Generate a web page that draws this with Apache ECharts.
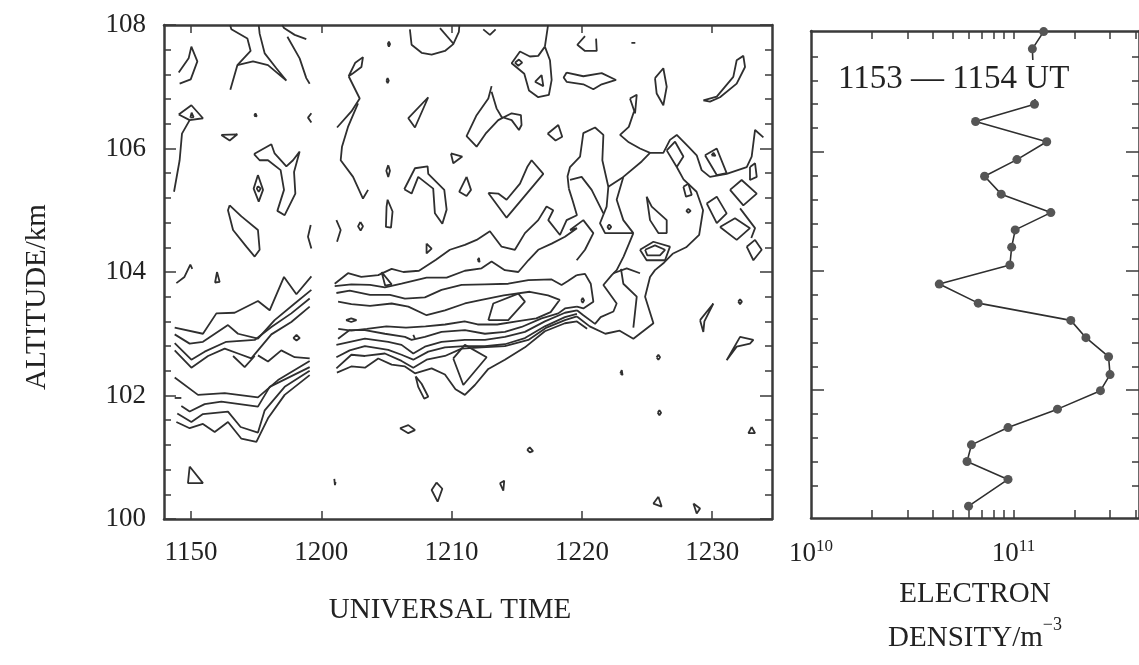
<!DOCTYPE html>
<html>
<head>
<meta charset="utf-8">
<script src="https://cdn.jsdelivr.net/npm/echarts@6/dist/echarts.min.js"></script>
<style>
  html, body { margin: 0; padding: 0; background: #fff; }
  #chart { width: 1139px; height: 665px; }
</style>
</head>
<body>
<div id="chart"></div>
<script>
// time is kept as minutes after 1100 UT, labels are HHMM
const timeTicks = [50, 60, 70, 80, 90];
const timeLabels = ['1150', '1200', '1210', '1220', '1230'];

// electron density profile 1153-1154 UT (altitude km, density m^-3)
const profileAlt = [108.02, 107.73, 107.43, 107.12, 106.80, 106.51, 106.17, 105.87, 105.59, 105.29,
  104.98, 104.69, 104.40, 104.10, 103.78, 103.46, 103.17, 102.88, 102.56, 102.26,
  101.99, 101.68, 101.37, 101.08, 100.80, 100.50, 100.05];
const profileDensity = [1.41e11, 1.24e11, 1.25e11, 1.3e11, 1.27e11, 6.5e10, 1.46e11, 1.04e11, 7.2e10, 8.7e10,
  1.53e11, 1.02e11, 9.8e10, 9.6e10, 4.3e10, 6.7e10, 1.92e11, 2.28e11, 2.95e11, 3.0e11,
  2.69e11, 1.65e11, 9.4e10, 6.2e10, 5.9e10, 9.4e10, 6.0e10];
const densityTicks = [2e10, 3e10, 4e10, 5e10, 6e10, 7e10, 8e10, 9e10, 1e11, 2e11, 3e11, 4e11];
const densityLabels = [1e10, 1e11];
const altMajorRight = [102, 104, 106];
const altMinorRight = [100.4, 100.8, 101.2, 101.6, 102.4, 102.8, 103.2, 103.6, 104.4, 104.8,
  105.2, 105.6, 106.4, 106.8, 107.2, 107.6];

// contour lines of the time-altitude plot, [minutes after 1100, km]
const contoursEarly = [
  [[49.06,107.23],[49.82,107.46],[50.03,107.65],[50.49,107.41],[49.98,107.12],[49.13,107.05]],
  [[53.0,108.0],[53.10,107.93],[54.33,107.78],[54.58,107.58],[53.56,107.35],[53.02,106.95]],
  [[53.56,107.35],[54.76,107.41],[55.91,107.35],[57.32,107.10],[56.55,107.30],[55.66,107.54],[55.27,107.86],[55.2,108.0]],
  [[57.0,108.0],[57.14,107.95],[57.96,107.84],[58.85,107.77]],
  [[57.40,107.81],[58.34,107.46],[58.85,107.14],[59.11,107.05]],
  [[62.10,107.17],[62.61,107.39],[63.20,107.48],[63.08,107.32],[62.44,107.22],[62.10,107.17]],
  [[62.10,107.17],[62.95,106.81],[62.31,106.60],[61.21,106.34]],
  [[62.82,106.73],[62.05,106.35],[61.59,106.03],[61.49,105.81],[62.44,105.54],[63.20,105.19],[63.59,105.33]],
  [[49.06,106.55],[50.03,106.70],[50.92,106.49],[49.90,106.46],[49.06,106.55]],
  [[49.90,106.46],[49.31,106.24],[49.13,105.81],[48.70,105.30]],
  [[49.95,106.50],[50.05,106.58],[50.2,106.51],[49.95,106.50]],
  [[54.85,106.53],[54.95,106.57],[55.05,106.52],[54.95,106.49],[54.85,106.53]],
  [[52.33,106.22],[53.56,106.23],[52.97,106.13],[52.33,106.22]],
  [[59.24,106.57],[58.98,106.50],[59.24,106.42]],
  [[54.84,105.91],[56.17,106.07],[56.42,105.92],[57.32,105.71],[57.83,105.81],[58.34,105.95],[57.91,105.62],[58.01,105.27],[57.19,104.92],[56.63,104.99],[57.14,105.33],[56.88,105.65],[55.91,105.81],[55.27,105.81],[54.84,105.91]],
  [[55.14,105.57],[55.53,105.33],[55.20,105.14],[54.81,105.35],[55.14,105.57]],
  [[55.14,105.39],[55.35,105.35],[55.20,105.30],[55.05,105.35],[55.14,105.39]],
  [[52.97,105.08],[53.87,104.90],[55.14,104.68],[55.27,104.36],[54.89,104.25],[54.25,104.41],[53.23,104.68],[52.84,105.00],[52.97,105.08]],
  [[59.19,104.76],[58.98,104.57],[59.24,104.38]],
  [[61.16,104.84],[61.49,104.68],[61.21,104.49]],
  [[63.00,104.81],[63.20,104.74],[63.02,104.67],[62.82,104.74],[63.00,104.81]],
  [[48.88,103.82],[49.5,103.92],[49.95,104.12],[50.1,104.05]],
  [[52.0,104.0],[52.2,103.84],[51.85,103.83],[52.0,104.0]],
  [[49.90,100.85],[50.92,100.58],[49.77,100.58],[49.90,100.85]],
  [[61.0,100.65],[61.05,100.55],[61.1,100.6]],
  // layer before 1200
  [[48.75,103.10],[50.92,103.00],[51.95,103.33],[53.35,103.34],[55.14,103.53],[56.04,103.38],[57.14,103.92],[58.09,103.64],[59.24,103.93]],
  [[48.75,102.99],[49.90,102.84],[50.92,102.87],[52.84,103.14],[53.61,103.00],[55.14,102.92],[56.42,103.22],[57.96,103.49],[59.24,103.71]],
  [[48.75,102.85],[50.03,102.58],[51.05,102.71],[52.71,102.87],[54.89,102.90],[56.17,103.11],[57.70,103.33],[59.11,103.57]],
  [[48.75,102.73],[50.03,102.45],[51.31,102.64],[52.59,102.76],[53.61,102.68],[54.63,102.60],[56.17,102.99],[57.70,103.19],[59.11,103.44]],
  [[53.23,102.64],[54.12,102.46],[54.89,102.64]],
  [[55.14,102.65],[55.91,102.55],[56.93,102.73],[57.96,102.62],[59.11,102.60]],
  [[57.85,102.93],[58.1,102.98],[58.35,102.93],[58.1,102.89],[57.85,102.93]],
  [[48.75,102.29],[50.54,102.01],[52.59,102.04],[55.14,101.97],[56.68,102.25],[59.11,102.56]],
  [[48.75,101.96],[49.26,101.96]],
  [[49.26,101.83],[49.90,101.74],[51.05,101.86],[52.33,101.90],[55.14,101.82],[56.04,102.14],[59.11,102.46]],
  [[48.95,101.71],[50.03,101.57],[50.92,101.70],[52.84,101.74],[53.81,101.49],[55.14,101.40],[55.66,101.76],[57.19,102.14],[59.11,102.40]],
  [[48.88,101.57],[49.90,101.47],[50.92,101.54],[51.82,101.41],[52.84,101.57],[53.87,101.30],[55.02,101.25],[55.91,101.63],[57.19,102.01],[59.11,102.33]]
];

const contoursMid = [
  [[66.80,107.93],[66.93,107.68],[67.70,107.55],[68.47,107.52],[69.49,107.58],[70.13,107.69],[70.56,107.89],[70.6,108.0]],
  [[69.11,107.95],[70.13,107.70]],
  [[72.43,107.93],[72.94,107.84],[73.38,107.93]],
  [[65.10,107.69],[65.19,107.73],[65.28,107.69],[65.19,107.65],[65.10,107.69]],
  [[65.0,107.10],[65.09,107.14],[65.18,107.10],[65.09,107.06],[65.0,107.10]],
  [[77.4,108.0],[77.37,107.95],[77.16,107.65]],
  [[77.16,107.65],[76.65,107.50],[76.01,107.49],[75.25,107.57],[74.61,107.38],[75.58,107.21],[75.94,106.94],[76.65,106.83],[77.47,106.87],[77.68,107.11],[77.55,107.43],[77.16,107.65]],
  [[74.86,107.39],[75.17,107.44],[75.42,107.39],[75.12,107.34],[74.86,107.39]],
  [[76.40,107.08],[76.91,107.19],[77.04,107.01],[76.40,107.08]],
  [[78.83,107.23],[80.11,107.17],[81.52,107.22],[82.62,107.11],[81.52,107.04],[80.88,106.96],[80.11,107.04],[78.83,107.08],[78.6,107.15],[78.83,107.23]],
  [[68.21,106.83],[66.68,106.49],[67.19,106.34],[68.21,106.83]],
  [[73.07,107.01],[72.82,106.81],[71.92,106.54],[71.15,106.20],[71.92,106.03],[72.61,106.24],[73.58,106.46],[74.61,106.57],[75.32,106.54],[75.37,106.38],[75.17,106.30],[74.61,106.46],[73.84,106.51],[73.45,106.65],[73.07,106.92]],
  [[77.37,106.24],[78.19,106.38],[78.49,106.19],[77.98,106.13],[77.37,106.24]],
  [[69.95,105.92],[70.82,105.87],[70.13,105.76],[69.95,105.92]],
  [[65.14,105.73],[65.27,105.64],[65.14,105.54],[64.99,105.64],[65.14,105.73]],
  [[66.37,105.34],[67.19,105.68],[68.16,105.71],[68.21,105.59],[69.44,105.33],[69.62,105.01],[69.29,104.78],[68.72,104.95],[68.59,105.35],[67.44,105.54],[66.93,105.27],[66.37,105.34]],
  [[71.15,105.54],[71.49,105.33],[71.15,105.23],[70.59,105.30],[71.15,105.54]],
  [[65.09,105.17],[65.47,104.98],[65.35,104.72],[64.96,104.73],[65.01,105.06],[65.09,105.17]],
  [[72.82,105.28],[74.22,104.88],[77.04,105.59],[76.14,105.81],[75.83,105.71],[75.25,105.43],[74.22,105.17],[73.58,105.27],[72.82,105.28]],
  [[68.08,104.46],[68.47,104.38],[68.08,104.30],[68.08,104.46]],
  [[72.0,104.19],[72.1,104.23],[72.15,104.16],[72.0,104.19]],
  [[64.63,104.0],[65.40,103.8],[64.9,103.78],[64.63,104.0]],
  // layer after 1200
  [[61.03,103.81],[62.05,103.98],[63.07,103.92],[64.37,103.95],[65.4,104.05],[66.3,104.0],[67.5,104.02],[68.8,104.2],[69.87,104.36],[71.02,104.44],[71.92,104.52],[72.94,104.66],[73.84,104.41],[74.86,104.36],[75.63,104.63],[76.65,104.84],[77.29,105.06],[77.80,105.00],[77.42,104.84],[78.32,104.60],[78.83,104.84],[79.62,104.92],[79.3,105.15],[79.0,105.35]],
  [[61.03,103.77],[62.31,103.80],[63.74,103.79],[64.88,103.75],[66.16,103.81],[68.08,103.91],[69.62,103.91],[71.02,104.02],[72.30,104.06],[73.07,104.17],[74.09,104.03],[75.12,104.0],[75.89,104.19],[76.65,104.36],[77.68,104.46],[78.70,104.57],[79.62,104.71],[79.09,104.68]],
  [[61.16,103.66],[62.18,103.70],[63.74,103.63],[65.27,103.63],[66.42,103.57],[67.95,103.59],[69.23,103.71],[70.77,103.79],[72.56,103.80],[74.35,103.81],[75.89,103.87],[77.68,103.88],[78.44,103.79],[78.9,103.85],[79.62,103.95]],
  [[61.29,103.52],[62.31,103.48],[63.74,103.45],[65.40,103.49],[66.68,103.44],[68.08,103.30],[69.49,103.38],[71.02,103.49],[72.3,103.55],[74.0,103.62],[76.0,103.68],[77.4,103.62],[78.3,103.55],[77.6,103.35],[76.5,103.25],[75.0,103.2],[73.5,103.15],[72.0,103.15],[71.0,103.2],[69.5,103.15],[68.0,103.12],[66.5,103.1],[65.0,103.12],[63.5,103.08],[62.3,103.05],[61.3,103.08]],
  [[72.82,103.22],[73.20,103.49],[75.12,103.65],[75.63,103.52],[74.35,103.22],[72.82,103.22]],
  [[61.9,103.22],[62.3,103.25],[62.7,103.22],[62.3,103.19],[61.9,103.22]],
  [[61.29,102.92],[62.18,103.06],[63.35,103.06],[64.88,103.00],[66.42,102.95],[66.93,102.90],[67.95,102.95],[69.23,103.03],[71.02,103.06],[72.56,103.0],[74.09,103.03],[75.37,103.11],[76.91,103.25],[78.19,103.33],[78.70,103.41],[79.62,103.44]],
  [[61.16,102.82],[63.35,102.92],[65.14,102.87],[66.16,102.82],[67.06,102.68],[67.95,102.79],[69.23,102.87],[71.02,102.90],[72.56,102.90],[74.09,102.95],[75.63,103.03],[77.16,103.20],[78.70,103.34],[79.62,103.38]],
  [[61.16,102.62],[62.18,102.73],[63.35,102.80],[65.14,102.74],[66.16,102.66],[67.06,102.58],[68.21,102.71],[69.49,102.78],[71.02,102.80],[72.56,102.80],[74.09,102.83],[75.63,102.93],[77.16,103.12],[78.70,103.27],[79.62,103.32]],
  [[61.16,102.44],[62.31,102.66],[63.35,102.64],[64.88,102.68],[66.16,102.56],[67.06,102.45],[68.08,102.58],[69.49,102.64],[70.77,102.76],[72.30,102.78],[74.09,102.80],[75.89,102.90],[77.29,103.10],[78.70,103.22],[79.62,103.28]],
  [[61.2,102.37],[62.3,102.47],[63.35,102.45],[64.37,102.60],[65.40,102.50],[66.42,102.47],[67.19,102.36],[68.47,102.44],[69.49,102.34],[70.3,102.1],[71.02,102.01],[71.79,102.17],[72.82,102.43],[74.09,102.58],[75.63,102.78],[77.16,103.04],[78.70,103.17],[79.62,103.20],[80.4,103.08]],
  [[70.13,102.60],[71.02,102.82],[72.69,102.62],[70.90,102.17],[70.13,102.60]],
  [[67.24,102.31],[67.70,102.19],[68.21,101.98],[67.9,101.95],[67.44,102.14],[67.24,102.31]],
  [[67.06,102.98],[67.19,103.0],[67.19,102.92],[67.06,102.98]],
  [[66.04,101.47],[66.68,101.52],[67.19,101.44],[66.68,101.39],[66.04,101.47]],
  [[75.8,101.12],[76.0,101.16],[76.25,101.1],[76.0,101.08],[75.8,101.12]],
  [[68.85,100.59],[69.29,100.49],[68.93,100.28],[68.47,100.47],[68.85,100.59]],
  [[73.71,100.58],[74.04,100.62],[73.97,100.46],[73.71,100.58]]
];

const contoursLate = [
  [[80.24,107.82],[79.65,107.68],[80.24,107.58],[81.14,107.58],[81.09,107.78]],
  [[83.8,107.71],[83.95,107.74],[84.1,107.71],[83.95,107.68],[83.8,107.71]],
  [[85.61,107.14],[86.25,107.30],[86.51,107.00],[86.25,106.70],[85.74,106.89],[85.61,107.14]],
  [[89.32,106.78],[90.35,106.84],[91.62,107.16],[91.88,107.43],[92.39,107.50],[92.52,107.32],[91.88,107.05],[90.60,106.83],[89.83,106.76],[89.32,106.78]],
  [[83.69,106.81],[84.21,106.87],[84.08,106.57],[83.69,106.81]],
  [[79.0,105.35],[78.9,105.55],[79.09,105.70],[79.86,105.87],[80.11,106.25],[81.01,106.34],[81.65,106.22],[81.57,105.81],[82.03,105.38],[83.18,105.54],[84.59,105.79],[85.23,105.93],[86.25,105.93],[86.76,106.14],[87.28,106.22],[88.17,106.03],[88.81,105.89],[89.19,105.65],[89.83,105.54],[91.11,105.59],[92.65,105.70],[93.03,105.87],[93.29,106.30],[93.93,106.18]],
  [[84.0,106.6],[83.6,106.35],[82.93,106.22],[83.6,106.1],[84.46,106.0],[85.23,105.93]],
  [[86.51,105.97],[87.15,106.11],[87.79,105.87],[87.28,105.70],[86.51,105.97]],
  [[84.97,105.22],[85.36,105.06],[86.51,104.84],[86.51,104.63],[85.87,104.63],[85.23,104.84],[84.97,105.22]],
  [[88.0,104.99],[88.17,105.02],[88.35,104.99],[88.17,104.96],[88.0,104.99]],
  [[87.79,105.38],[88.17,105.43],[88.43,105.25],[87.99,105.22],[87.79,105.38]],
  [[89.45,105.89],[90.35,106.0],[91.11,105.60],[90.35,105.57],[89.45,105.89]],
  [[89.95,105.89],[90.1,105.93],[90.25,105.88],[90.1,105.85],[89.95,105.89]],
  [[92.90,105.70],[93.29,105.76],[93.42,105.54],[92.90,105.49],[92.90,105.70]],
  [[91.37,105.33],[92.26,105.49],[93.42,105.27],[92.39,105.08],[91.37,105.33]],
  [[89.58,105.11],[90.35,105.22],[91.11,104.95],[90.35,104.79],[89.58,105.11]],
  [[90.60,104.73],[91.75,104.87],[92.90,104.71],[91.88,104.52],[90.60,104.73]],
  [[92.65,104.41],[93.29,104.52],[93.80,104.36],[93.16,104.19],[92.65,104.41]],
  [[92.14,105.03],[93.29,104.71],[93.0,104.55]],
  [[84.46,104.36],[85.49,104.49],[86.76,104.41],[86.38,104.19],[84.97,104.19],[84.46,104.36]],
  [[84.85,104.36],[85.61,104.43],[86.38,104.36],[85.99,104.27],[85.02,104.27],[84.85,104.36]],
  [[82.42,103.98],[83.44,104.06],[84.46,103.98]],
  [[79.09,104.68],[80.11,104.84],[80.88,104.63],[80.24,104.36],[79.60,104.19]],
  [[82.03,105.38],[81.90,105.06],[81.39,104.79],[81.78,104.63],[83.95,104.63],[83.18,104.84],[82.67,105.17],[83.18,105.54]],
  [[81.95,104.73],[82.1,104.77],[82.25,104.73],[82.1,104.69],[81.95,104.73]],
  [[87.28,105.70],[87.8,105.5],[88.8,105.3],[89.3,105.0],[89.0,104.6],[88.0,104.4],[87.0,104.3]],
  [[79.09,105.49],[79.98,105.54],[80.75,105.33],[81.65,104.95]],
  [[79.62,103.95],[80.24,103.97],[80.68,103.81],[80.88,103.52],[80.11,103.41],[79.62,103.44]],
  [[79.95,103.54],[80.06,103.58],[80.17,103.54],[80.06,103.5],[79.95,103.54]],
  [[79.62,103.38],[80.11,103.30],[81.01,103.16],[81.44,103.27],[82.42,103.36],[82.67,103.49],[81.65,103.79],[82.29,103.95],[82.67,104.03],[83.2,104.25],[83.6,104.45],[83.95,104.63]],
  [[79.62,103.28],[80.6,103.12],[81.8,103.0],[82.9,103.05],[83.95,102.92],[85.49,103.17],[84.85,103.60],[85.23,103.92],[85.61,104.03],[86.3,104.15],[87.0,104.3]],
  [[83.0,104.05],[83.18,103.81],[84.21,103.60],[83.95,103.1]],
  [[89.07,103.22],[90.09,103.49],[89.4,103.2],[89.32,103.03],[89.07,103.22]],
  [[91.11,102.57],[92.14,102.95],[93.16,102.90],[92.90,102.84],[91.88,102.79],[91.11,102.57]],
  [[92.0,103.52],[92.14,103.56],[92.28,103.52],[92.14,103.48],[92.0,103.52]],
  [[85.73,102.62],[85.87,102.66],[86.0,102.62],[85.87,102.58],[85.73,102.62]],
  [[82.95,102.36],[83.06,102.41],[83.12,102.33],[82.95,102.36]],
  [[85.82,101.72],[85.95,101.76],[86.08,101.72],[85.95,101.68],[85.82,101.72]],
  [[93.03,101.49],[93.29,101.39],[92.78,101.39],[93.03,101.49]],
  [[85.87,100.36],[86.12,100.20],[85.49,100.25],[85.87,100.36]],
  [[88.56,100.25],[89.07,100.17],[88.81,100.09],[88.56,100.25]]
];

const serif = "'Liberation Serif', 'DejaVu Serif', serif";
const ink = '#2f2f2f';
const frame = { lineStyle: { color: '#3a3a3a', width: 2.5 } };

function labelTime(v) {
  const i = timeTicks.indexOf(Math.round(v));
  return i >= 0 ? timeLabels[i] : '';
}
function labelPow(v) {
  return '10{sup|' + Math.round(Math.log10(v)) + '}';
}

const chart = echarts.init(document.getElementById('chart'));

const contourSeries = contoursEarly.concat(contoursMid, contoursLate).map(function (pts) {
  return {
    type: 'line',
    xAxisIndex: 0,
    yAxisIndex: 0,
    data: pts,
    symbol: 'none',
    lineStyle: { color: ink, width: 1.8 },
    silent: true,
    z: 2
  };
});

const profileSeries = {
  type: 'line',
  xAxisIndex: 2,
  yAxisIndex: 2,
  data: profileDensity.map(function (d, i) { return [d, profileAlt[i]]; }),
  symbol: 'circle',
  symbolSize: 9,
  itemStyle: { color: '#555' },
  lineStyle: { color: ink, width: 1.6 },
  silent: true,
  z: 2
};

const option = {
  animation: false,
  backgroundColor: '#fff',
  title: {
    text: '1153 — 1154 UT',
    left: 834,
    top: 60,
    padding: [3, 4],
    backgroundColor: '#fff',
    textStyle: { fontFamily: serif, fontSize: 33, fontWeight: 'normal', color: '#222' }
  },
  grid: [
    { left: 164, top: 25, width: 608, height: 494 },
    { left: 811, top: 31, width: 332, height: 496 }
  ],
  xAxis: [
    {
      gridIndex: 0, type: 'value', position: 'bottom', min: 47.93, max: 94.59,
      axisLine: Object.assign({ onZero: false }, frame),
      axisTick: { inside: true, length: 8, customValues: timeTicks, lineStyle: { color: '#3a3a3a', width: 1.5 } },
      axisLabel: { customValues: timeTicks, formatter: labelTime, fontFamily: serif, fontSize: 27, color: '#222', margin: 20 },
      splitLine: { show: false },
      name: 'UNIVERSAL TIME', nameLocation: 'middle', nameGap: 77,
      nameTextStyle: { fontFamily: serif, fontSize: 29, color: '#222', padding: [0, 36, 0, 0] }
    },
    {
      gridIndex: 0, type: 'value', position: 'top', min: 47.93, max: 94.59,
      axisLine: Object.assign({ onZero: false }, frame),
      axisTick: { inside: true, length: 8, customValues: timeTicks, lineStyle: { color: '#3a3a3a', width: 1.5 } },
      axisLabel: { show: false },
      splitLine: { show: false }
    },
    {
      gridIndex: 1, type: 'log', position: 'bottom', min: 1e10, max: 4.17e11,
      axisLine: Object.assign({ onZero: false }, frame),
      axisTick: { inside: true, length: 8, customValues: densityTicks, lineStyle: { color: '#3a3a3a', width: 1.5 } },
      axisLabel: {
        customValues: densityLabels, formatter: labelPow, fontFamily: serif, fontSize: 27, color: '#222', margin: 20,
        rich: { sup: { fontFamily: serif, fontSize: 17, verticalAlign: 'top', padding: [0, 0, 14, 0] } }
      },
      splitLine: { show: false },
      name: 'ELECTRON\nDENSITY/m{sup|−3}', nameLocation: 'middle', nameGap: 52,
      nameTextStyle: {
        fontFamily: serif, fontSize: 29, color: '#222', lineHeight: 44,
        rich: { sup: { fontFamily: serif, fontSize: 18, verticalAlign: 'top', padding: [0, 0, 16, 0] } }
      }
    },
    {
      gridIndex: 1, type: 'log', position: 'top', min: 1e10, max: 4.17e11,
      axisLine: Object.assign({ onZero: false }, frame),
      axisTick: { inside: true, length: 8, customValues: densityTicks, lineStyle: { color: '#3a3a3a', width: 1.5 } },
      axisLabel: { show: false },
      splitLine: { show: false }
    }
  ],
  yAxis: [
    {
      gridIndex: 0, type: 'value', position: 'left', min: 100, max: 108, interval: 2,
      axisLine: Object.assign({ onZero: false }, frame),
      axisTick: { inside: true, length: 12, lineStyle: { color: '#3a3a3a', width: 1.5 } },
      minorTick: { show: true, splitNumber: 5, length: 7, lineStyle: { color: '#3a3a3a', width: 1.5 } },
      axisLabel: { fontFamily: serif, fontSize: 27, color: '#222', margin: 18 },
      splitLine: { show: false },
      name: 'ALTITUDE/km', nameLocation: 'middle', nameGap: 112, nameRotate: 90,
      nameTextStyle: { fontFamily: serif, fontSize: 29, color: '#222', padding: [0, 50, 0, 0] }
    },
    {
      gridIndex: 0, type: 'value', position: 'right', min: 100, max: 108, interval: 2,
      axisLine: Object.assign({ onZero: false }, frame),
      axisTick: { inside: true, length: 12, lineStyle: { color: '#3a3a3a', width: 1.5 } },
      minorTick: { show: true, splitNumber: 5, length: 7, lineStyle: { color: '#3a3a3a', width: 1.5 } },
      axisLabel: { show: false },
      splitLine: { show: false }
    },
    {
      gridIndex: 1, type: 'value', position: 'left', min: 99.85, max: 108.03,
      axisLine: Object.assign({ onZero: false }, frame),
      axisTick: { inside: true, length: 13, customValues: altMajorRight, lineStyle: { color: '#3a3a3a', width: 1.5 } },
      axisLabel: { show: false },
      splitLine: { show: false }
    },
    {
      gridIndex: 1, type: 'value', position: 'left', min: 99.85, max: 108.03,
      axisLine: { show: false },
      axisTick: { inside: true, length: 7, customValues: altMinorRight, lineStyle: { color: '#3a3a3a', width: 1.5 } },
      axisLabel: { show: false },
      splitLine: { show: false }
    },
    {
      gridIndex: 1, type: 'value', position: 'right', min: 99.85, max: 108.03,
      axisLine: Object.assign({ onZero: false }, frame),
      axisTick: { inside: true, length: 13, customValues: altMajorRight, lineStyle: { color: '#3a3a3a', width: 1.5 } },
      axisLabel: { show: false },
      splitLine: { show: false }
    },
    {
      gridIndex: 1, type: 'value', position: 'right', min: 99.85, max: 108.03,
      axisLine: { show: false },
      axisTick: { inside: true, length: 7, customValues: altMinorRight, lineStyle: { color: '#3a3a3a', width: 1.5 } },
      axisLabel: { show: false },
      splitLine: { show: false }
    }
  ],
  series: contourSeries.concat([profileSeries])
};

chart.setOption(option);
</script>
</body>
</html>
